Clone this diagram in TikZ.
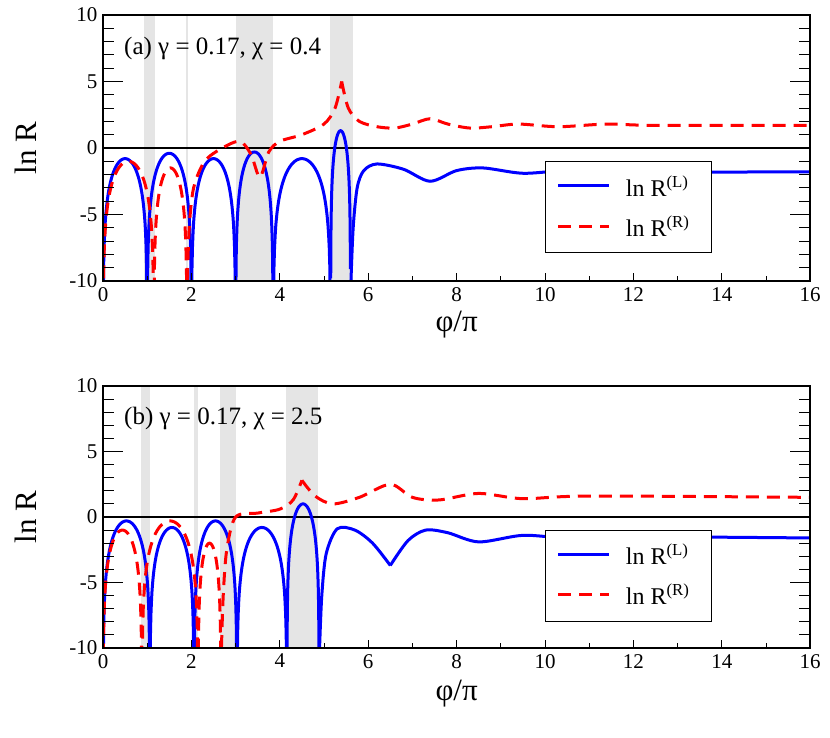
\documentclass[tikz,border=0pt]{standalone}
\usepackage{fontspec}
\setmainfont{Liberation Serif}
\tikzset{
  curveL/.style={blue,line width=3pt},
  curveR/.style={red,line width=3pt,dash pattern=on 13pt off 8pt},
  band/.style={fill=gray!20},
  ticklab/.style={font=\fontsize{21}{21}\selectfont},
  axlab/.style={font=\fontsize{31}{31}\selectfont},
  panlab/.style={font=\fontsize{25}{25}\selectfont,anchor=west},
  legtext/.style={font=\fontsize{24}{24}\selectfont,anchor=west}
}
% one lobe of ln R between two zeros
\newcommand\lobe[4]{\draw[#1] plot[domain={#2+0.002}:{#3-0.002},samples=90]
  (\x,{#4+2.6*ln(max(sin(180*(\x-#2)/(#3-#2)),0.0001))});}
\begin{document}
\begin{tikzpicture}[x=1pt,y=-1pt]
\useasboundingbox (0,0) rectangle (830,738);
% panel (a)
\begin{scope}[shift={(103,148)},x=44.2pt,y=13.3pt]
\foreach \a/\b in {0.93/1.18,1.88/1.93,3.0/3.85,5.13/5.66}
  \fill[band] (\a,-10) rectangle (\b,10);
\draw[line width=1.2pt] (0,0) -- (16,0);
\begin{scope}
\clip (0,-10) rectangle (16,10);
\lobe{curveL}{0}{1.0}{-0.8}
\lobe{curveL}{1.0}{2.0}{-0.4}
\lobe{curveL}{2.0}{3.0}{-0.8}
\lobe{curveL}{3.0}{3.85}{-0.3}
\lobe{curveL}{3.85}{5.15}{-0.8}
\lobe{curveL}{5.15}{5.6}{1.3}
\draw[curveL] plot[smooth] coordinates {(5.61,-10)(5.66,-6)(5.75,-3)(5.9,-1.7)(6.2,-1.2)(6.8,-1.6)(7.4,-2.5)(8.0,-1.7)(8.6,-1.5)(9.5,-1.9)(10.5,-1.7)(12,-1.8)(16,-1.8)};
\lobe{curveR}{0}{1.15}{-1.0}
\lobe{curveR}{1.15}{1.9}{-1.5}
\draw[curveR] plot[smooth] coordinates {(1.91,-10)(1.95,-6)(2.05,-3)(2.3,-1)(2.7,0)(3.1,0.5)(3.35,-0.5)(3.55,-2.2)(3.75,-0.3)(4.0,0.5)(4.5,1.0)(5.0,1.8)(5.25,3)(5.4,5)};
\draw[curveR] plot[smooth] coordinates {(5.4,5)(5.55,3)(5.8,2)(6.2,1.6)(6.6,1.5)(7.0,1.8)(7.4,2.2)(7.8,1.8)(8.3,1.5)(8.8,1.6)(9.4,1.8)(10.3,1.6)(11.4,1.8)(12.5,1.7)(16,1.7)};
\end{scope}
\draw[line width=1.5pt] (0,-10) rectangle (16,10);
\foreach \t in {0,2,...,16} {\draw[line width=1pt] (\t,-10) -- ++(0,0.6);
  \node[ticklab,below] (xa\t) at (\t,-10.2) {\t};}
\foreach \t in {1,3,...,15} \draw[line width=1pt] (\t,-10) -- ++(0,0.35);
\foreach \t in {-10,-5,0,5,10} {\draw[line width=1pt] (0,\t) -- ++(0.45,0) (16,\t) -- ++(-0.45,0);
  \node[ticklab,left] (ya\t) at (-0.05,\t) {\t};}
\foreach \t in {-9,...,9} \draw[line width=1pt] (0,\t) -- ++(0.25,0) (16,\t) -- ++(-0.25,0);
\node[axlab,rotate=90] (lnRa) at (-1.75,0) {ln R};
\node[axlab] (phia) at (8,-13.3) {φ/π};
\node[panlab] (capa) at (0.4,7.5) {(a) γ = 0.17, χ = 0.4};
\node[draw,fill=white,line width=1pt,minimum width=166pt,minimum height=91pt,anchor=north west] (lega) at (10.0,-0.98) {};
\draw[curveL] (10.3,-2.85) coordinate (la1) -- (11.45,-2.85) coordinate (la2);
\draw[curveR] (10.3,-5.9) coordinate (la3) -- (11.45,-5.9) coordinate (la4);
\node[legtext] (tLa) at (11.75,-2.85) {ln R\textsuperscript{(L)}};
\node[legtext] (tRa) at (11.75,-5.9) {ln R\textsuperscript{(R)}};
\end{scope}
% panel (b)
\begin{scope}[shift={(103,517)},x=44.2pt,y=13.1pt]
\foreach \a/\b in {0.86/1.06,2.06/2.15,2.65/3.0,4.14/4.86}
  \fill[band] (\a,-10) rectangle (\b,10);
\draw[line width=1.2pt] (0,0) -- (16,0);
\begin{scope}
\clip (0,-10) rectangle (16,10);
\lobe{curveL}{0}{1.06}{-0.3}
\lobe{curveL}{1.06}{2.06}{-0.8}
\lobe{curveL}{2.06}{3.03}{-0.3}
\lobe{curveL}{3.03}{4.16}{-0.8}
\lobe{curveL}{4.16}{4.89}{1.0}
\draw[curveL] plot[smooth] coordinates {(4.9,-10)(4.95,-6)(5.05,-2.8)(5.3,-0.9)(5.7,-1.0)(6.1,-2.0)(6.5,-3.7)};
\draw[curveL] plot[smooth] coordinates {(6.5,-3.7)(6.9,-1.8)(7.3,-1.0)(7.8,-1.2)(8.5,-1.9)(9.5,-1.4)(10.5,-1.6)(12,-1.5)(16,-1.6)};
\lobe{curveR}{0}{0.88}{-1.0}
\lobe{curveR}{0.88}{2.15}{-0.3}
\lobe{curveR}{2.15}{2.67}{-2.0}
\draw[curveR] plot[smooth] coordinates {(2.68,-10)(2.72,-6)(2.8,-2.5)(3.0,0)(3.5,0.3)(4.0,0.6)(4.3,1.3)(4.5,2.8)};
\draw[curveR] plot[smooth] coordinates {(4.5,2.8)(4.8,1.6)(5.2,1.0)(5.8,1.5)(6.5,2.5)(7.0,1.5)(7.6,1.3)(8.5,1.8)(9.5,1.4)(11,1.6)(16,1.5)};
\end{scope}
\draw[line width=1.5pt] (0,-10) rectangle (16,10);
\foreach \t in {0,2,...,16} {\draw[line width=1pt] (\t,-10) -- ++(0,0.6);
  \node[ticklab,below] (xb\t) at (\t,-10.2) {\t};}
\foreach \t in {1,3,...,15} \draw[line width=1pt] (\t,-10) -- ++(0,0.35);
\foreach \t in {-10,-5,0,5,10} {\draw[line width=1pt] (0,\t) -- ++(0.45,0) (16,\t) -- ++(-0.45,0);
  \node[ticklab,left] (yb\t) at (-0.05,\t) {\t};}
\foreach \t in {-9,...,9} \draw[line width=1pt] (0,\t) -- ++(0.25,0) (16,\t) -- ++(-0.25,0);
\node[axlab,rotate=90] (lnRb) at (-1.75,0) {ln R};
\node[axlab] (phib) at (8,-13.5) {φ/π};
\node[panlab] (capb) at (0.4,7.5) {(b) γ = 0.17, χ = 2.5};
\node[draw,fill=white,line width=1pt,minimum width=166pt,minimum height=91pt,anchor=north west] (legb) at (10.0,-0.98) {};
\draw[curveL] (10.3,-2.85) coordinate (lb1) -- (11.45,-2.85) coordinate (lb2);
\draw[curveR] (10.3,-5.9) coordinate (lb3) -- (11.45,-5.9) coordinate (lb4);
\node[legtext] (tLb) at (11.75,-2.85) {ln R\textsuperscript{(L)}};
\node[legtext] (tRb) at (11.75,-5.9) {ln R\textsuperscript{(R)}};
\end{scope}
\end{tikzpicture}
\end{document}
